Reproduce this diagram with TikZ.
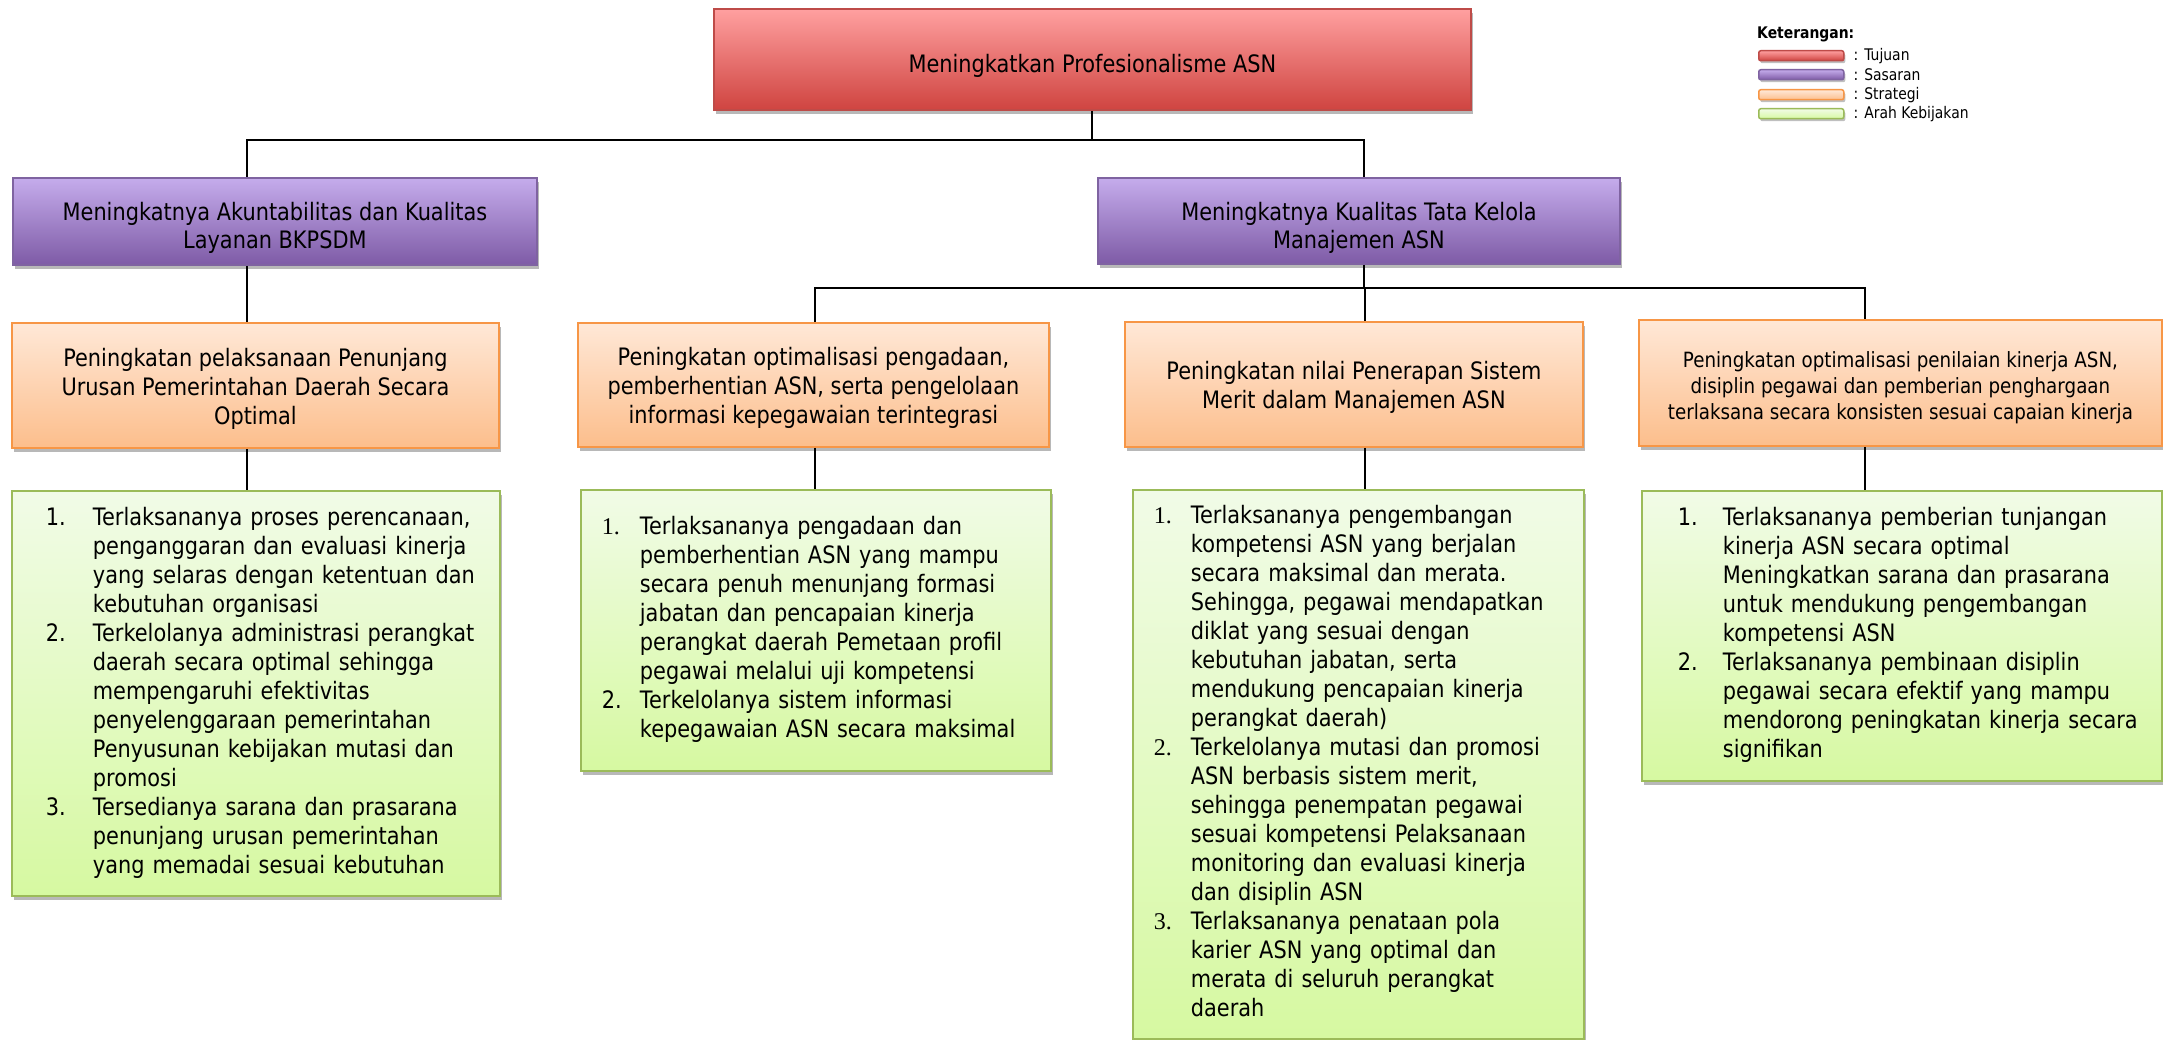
\documentclass[tikz,border=0pt]{standalone}
\usepackage{fontspec}
\setmainfont{DejaVu Sans}[FakeStretch=0.87]
\newfontfamily\numfont{Liberation Serif}
\usetikzlibrary{shadows}
\definecolor{redD}{RGB}{190,75,72}
\definecolor{redT}{RGB}{255,160,160}
\definecolor{redBt}{RGB}{207,68,64}
\definecolor{purD}{RGB}{127,99,161}
\definecolor{purT}{RGB}{197,172,236}
\definecolor{purBt}{RGB}{126,91,166}
\definecolor{oraD}{RGB}{247,150,70}
\definecolor{oraT}{RGB}{255,232,215}
\definecolor{oraBt}{RGB}{252,190,140}
\definecolor{grnD}{RGB}{155,187,89}
\definecolor{grnT}{RGB}{241,251,231}
\definecolor{grnBt}{RGB}{214,249,161}
\newcommand\tstrut[1]{\rule{0pt}{#1pt}}
\tikzset{
  box/.style={rectangle, anchor=north west, line width=1.8pt, inner sep=0pt, align=center,
    drop shadow={shadow xshift=2pt, shadow yshift=-4pt, opacity=0.28, fill=black}},
  tujuan/.style={box, draw=redD, top color=redT, bottom color=redBt},
  sasaran/.style={box, draw=purD, top color=purT, bottom color=purBt},
  strategi/.style={box, draw=oraD, top color=oraT, bottom color=oraBt},
  arah/.style={box, draw=grnD, top color=grnT, bottom color=grnBt, align=left},
  swatch/.style={rectangle, rounded corners=2pt, anchor=north west, line width=1.5pt, inner sep=0pt,
    minimum width=85pt, minimum height=10pt,
    drop shadow={shadow xshift=1.5pt, shadow yshift=-2.5pt, opacity=0.25, fill=black}},
  legtext/.style={anchor=west, inner sep=0pt, font=\fontsize{16}{19}\selectfont},
  conn/.style={line width=2pt, black},
  bigfont/.style={font=\fontsize{24}{29}\selectfont},
  sasfont/.style={font=\fontsize{24}{28}\selectfont},
  smallfont/.style={font=\fontsize{21}{26}\selectfont}
}
\begin{document}
\begin{tikzpicture}[x=1pt, y=-1pt]
\useasboundingbox (0,0) rectangle (2163,1040);

% Tujuan
\node[tujuan, bigfont, minimum width=757pt, minimum height=101pt] (T) at (713,8)
  {\tstrut{31}Meningkatkan Profesionalisme ASN};

% Sasaran
\node[sasaran, sasfont, minimum width=524pt, minimum height=87pt] (S1) at (12,177)
  {\tstrut{32}Meningkatnya Akuntabilitas dan Kualitas\\Layanan BKPSDM};
\node[sasaran, sasfont, minimum width=522pt, minimum height=86pt] (S2) at (1097,177)
  {\tstrut{32}Meningkatnya Kualitas Tata Kelola\\Manajemen ASN};

% Strategi
\node[strategi, bigfont, minimum width=487pt, minimum height=125pt] (O1) at (11,322)
  {\tstrut{25}Peningkatan pelaksanaan Penunjang\\Urusan Pemerintahan Daerah Secara\\Optimal};
\node[strategi, bigfont, minimum width=471pt, minimum height=124pt] (O2) at (577,322)
  {\tstrut{25}Peningkatan optimalisasi pengadaan,\\pemberhentian ASN, serta pengelolaan\\informasi kepegawaian terintegrasi};
\node[strategi, bigfont, minimum width=458pt, minimum height=125pt] (O3) at (1124,321)
  {\tstrut{24}Peningkatan nilai Penerapan Sistem\\Merit dalam Manajemen ASN};
\node[strategi, smallfont, minimum width=523pt, minimum height=126pt] (O4) at (1638,319)
  {\tstrut{26}Peningkatan optimalisasi penilaian kinerja ASN,\\disiplin pegawai dan pemberian penghargaan\\terlaksana secara konsisten sesuai capaian kinerja};

% Arah Kebijakan
\node[arah, bigfont, inner xsep=34pt, text width=420pt, minimum height=405pt] (G1) at (11,490)
  {\noindent\begin{tabular}{@{}p{47pt}@{}l@{}}
  1. & Terlaksananya proses perencanaan,\\
     & penganggaran dan evaluasi kinerja\\
     & yang selaras dengan ketentuan dan\\
     & kebutuhan organisasi\\
  2. & Terkelolanya administrasi perangkat\\
     & daerah secara optimal sehingga\\
     & mempengaruhi efektivitas\\
     & penyelenggaraan pemerintahan\\
     & Penyusunan kebijakan mutasi dan\\
     & promosi\\
  3. & Tersedianya sarana dan prasarana\\
     & penunjang urusan pemerintahan\\
     & yang memadai sesuai kebutuhan
  \end{tabular}};
\node[arah, bigfont, inner xsep=21pt, text width=428pt, minimum height=281pt] (G2) at (580,489)
  {\noindent\begin{tabular}{@{}p{38pt}@{}l@{}}
  {\numfont 1.} & Terlaksananya pengadaan dan\\
     & pemberhentian ASN yang mampu\\
     & secara penuh menunjang formasi\\
     & jabatan dan pencapaian kinerja\\
     & perangkat daerah Pemetaan profil\\
     & pegawai melalui uji kompetensi\\
  2. & Terkelolanya sistem informasi\\
     & kepegawaian ASN secara maksimal
  \end{tabular}};
\node[arah, bigfont, inner xsep=21pt, text width=409pt, minimum height=549pt] (G3) at (1132,489)
  {\noindent\begin{tabular}{@{}p{37pt}@{}l@{}}
  {\numfont 1.} & Terlaksananya pengembangan\\
     & kompetensi ASN yang berjalan\\
     & secara maksimal dan merata.\\
     & Sehingga, pegawai mendapatkan\\
     & diklat yang sesuai dengan\\
     & kebutuhan jabatan, serta\\
     & mendukung pencapaian kinerja\\
     & perangkat daerah)\\
  {\numfont 2.} & Terkelolanya mutasi dan promosi\\
     & ASN berbasis sistem merit,\\
     & sehingga penempatan pegawai\\
     & sesuai kompetensi Pelaksanaan\\
     & monitoring dan evaluasi kinerja\\
     & dan disiplin ASN\\
  {\numfont 3.} & Terlaksananya penataan pola\\
     & karier ASN yang optimal dan\\
     & merata di seluruh perangkat\\
     & daerah
  \end{tabular}};
\node[arah, bigfont, inner xsep=36pt, text width=448pt, minimum height=290pt] (G4) at (1641,490)
  {\noindent\begin{tabular}{@{}p{45pt}@{}l@{}}
  1. & Terlaksananya pemberian tunjangan\\
     & kinerja ASN secara optimal\\
     & Meningkatkan sarana dan prasarana\\
     & untuk mendukung pengembangan\\
     & kompetensi ASN\\
  2. & Terlaksananya pembinaan disiplin\\
     & pegawai secara efektif yang mampu\\
     & mendorong peningkatan kinerja secara\\
     & signifikan
  \end{tabular}};

% connector junctions
\coordinate (k1) at (247,140);
\coordinate (k2) at (1364,140);
\coordinate (k3) at (815,288);
\coordinate (k5) at (1365,288);
\coordinate (k4) at (1865,288);

\draw[conn] (T.south) -- (T.south |- k1);
\draw[conn] (k1 |- S1.north) -- (k1) -- (k2) -- (k2 |- S2.north);
\draw[conn] (k1 |- S1.south) -- (k1 |- O1.north);
\draw[conn] (k1 |- O1.south) -- (k1 |- G1.north);
\draw[conn] (k2 |- S2.south) -- (k2 |- k5);
\draw[conn] (k3 |- O2.north) -- (k3) -- (k4) -- (k4 |- O4.north);
\draw[conn] (k5) -- (k5 |- O3.north);
\draw[conn] (k3 |- O2.south) -- (k3 |- G2.north);
\draw[conn] (k5 |- O3.south) -- (k5 |- G3.north);
\draw[conn] (k4 |- O4.south) -- (k4 |- G4.north);

% Legend
\node[legtext, font=\fontsize{16}{19}\selectfont\bfseries] (LK) at (1757,34) {Keterangan:};
\node[swatch, draw=redD, top color=redT, bottom color=redBt] (L1) at (1758,50) {};
\node[swatch, draw=purD, top color=purT, bottom color=purBt] (L2) at (1758,69) {};
\node[swatch, draw=oraD, top color=oraT, bottom color=oraBt] (L3) at (1758,89) {};
\node[swatch, draw=grnD, top color=grnT, bottom color=grnBt] (L4) at (1758,108) {};
\node[legtext] (L1t) at ([xshift=9pt]L1.east) {: Tujuan};
\node[legtext] (L2t) at ([xshift=9pt]L2.east) {: Sasaran};
\node[legtext] (L3t) at ([xshift=9pt]L3.east) {: Strategi};
\node[legtext] (L4t) at ([xshift=9pt]L4.east) {: Arah Kebijakan};
\end{tikzpicture}
\end{document}
